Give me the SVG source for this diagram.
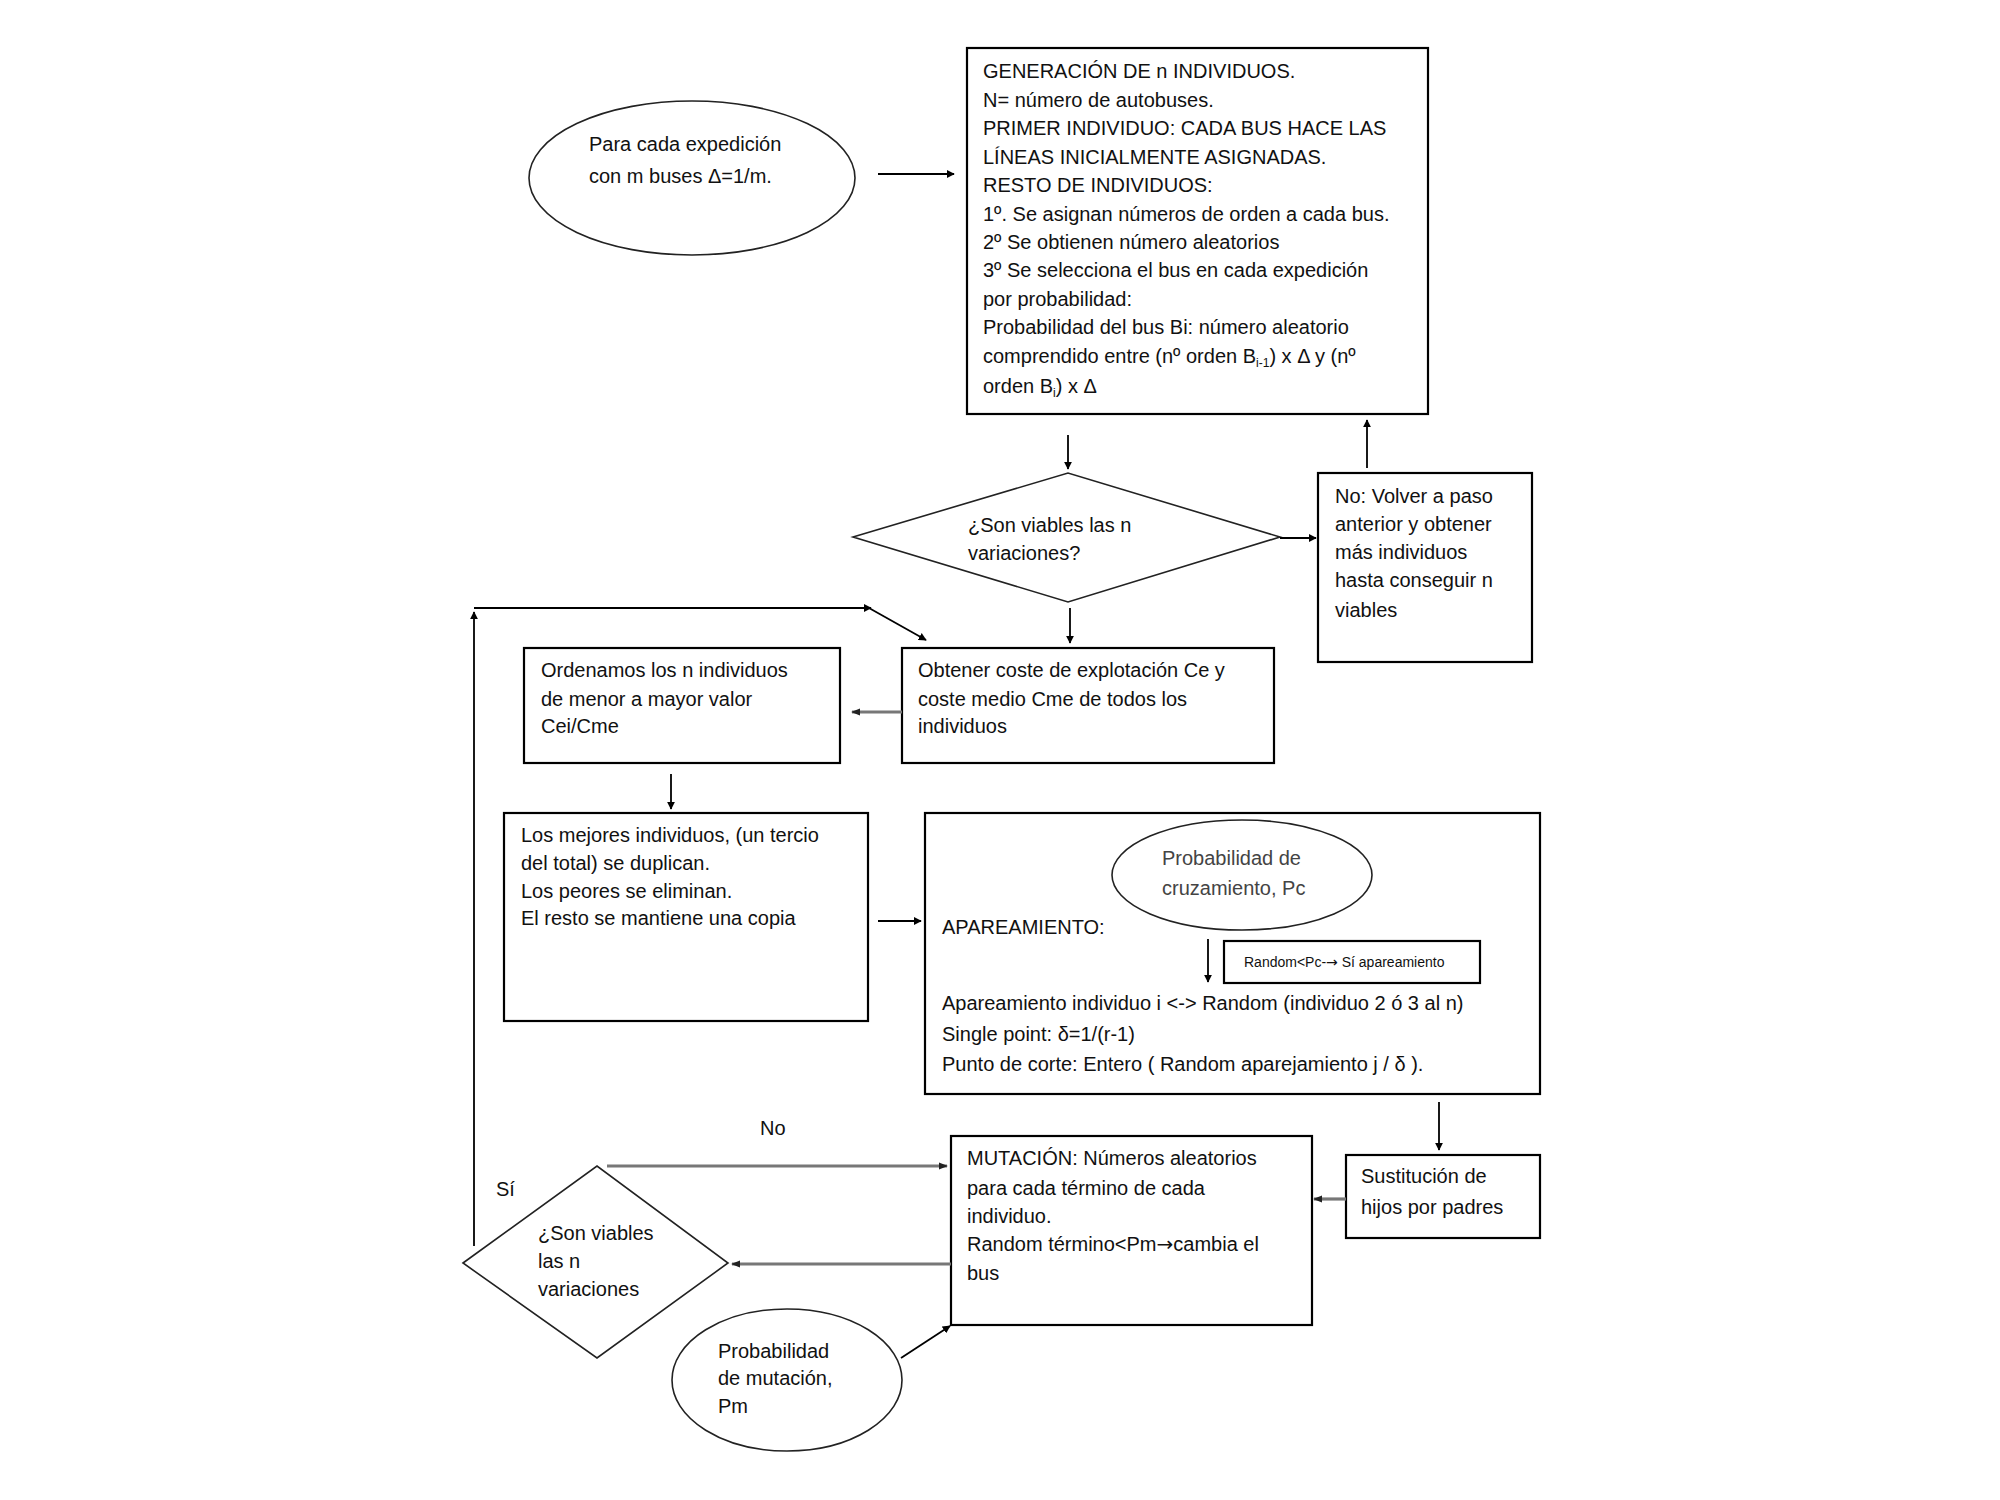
<svg xmlns="http://www.w3.org/2000/svg" width="2000" height="1500" viewBox="0 0 2000 1500">
<style>
text{font-family:"Liberation Sans",Arial,sans-serif;font-size:20px;fill:#111}
.box{fill:#fff;stroke:#000;stroke-width:2.2}
.shape{fill:#fff;stroke:#222;stroke-width:1.6}
.ln{fill:none;stroke:#000;stroke-width:1.8}
.lg{fill:none;stroke:#777;stroke-width:3.2}
.sm{font-size:14px}
.gr{fill:#444}
.arr{font-family:"DejaVu Sans",sans-serif}
</style>
<defs>
<marker id="ab" viewBox="0 0 10 10" refX="9" refY="5" markerWidth="8" markerHeight="8" markerUnits="userSpaceOnUse" orient="auto"><path d="M0,0L10,5L0,10z" fill="#000"/></marker>
<marker id="ag" viewBox="0 0 10 10" refX="9" refY="5" markerWidth="9" markerHeight="9" markerUnits="userSpaceOnUse" orient="auto"><path d="M0,1L10,5L0,9z" fill="#222"/></marker>
</defs>
<rect width="2000" height="1500" fill="#fff"/>

<g id="start">
<ellipse class="shape" cx="692" cy="178" rx="163" ry="77"/>
<text x="589" y="151">Para cada expedición</text>
<text x="589" y="183">con m buses Δ=1/m.</text>
</g>

<g id="generacion">
<rect class="box" x="967" y="48" width="461" height="366" stroke-width="2.6"/>
<text x="983" y="78">GENERACIÓN DE n INDIVIDUOS.</text>
<text x="983" y="107">N= número de autobuses.</text>
<text x="983" y="135">PRIMER INDIVIDUO: CADA BUS HACE LAS</text>
<text x="983" y="164">LÍNEAS INICIALMENTE ASIGNADAS.</text>
<text x="983" y="192">RESTO DE INDIVIDUOS:</text>
<text x="983" y="221">1º. Se asignan números de orden a cada bus.</text>
<text x="983" y="249">2º Se obtienen número aleatorios</text>
<text x="983" y="277">3º Se selecciona el bus en cada expedición</text>
<text x="983" y="306">por probabilidad:</text>
<text x="983" y="334">Probabilidad del bus Bi: número aleatorio</text>
<text x="983" y="363">comprendido entre (nº orden B<tspan font-size="12" dy="4">i-1</tspan><tspan dy="-4">) x Δ y (nº</tspan></text>
<text x="983" y="393">orden B<tspan font-size="12" dy="4">i</tspan><tspan dy="-4">) x Δ</tspan></text>
</g>

<g id="viables1">
<polygon class="shape" points="853,537 1068,473 1280,537 1068,602"/>
<text x="968" y="532">¿Son viables las n</text>
<text x="968" y="560">variaciones?</text>
</g>

<g id="no-volver">
<rect class="box" x="1318" y="473" width="214" height="189"/>
<text x="1335" y="503">No: Volver a paso</text>
<text x="1335" y="531">anterior y obtener</text>
<text x="1335" y="559">más individuos</text>
<text x="1335" y="587">hasta conseguir n</text>
<text x="1335" y="617">viables</text>
</g>

<g id="obtener">
<rect class="box" x="902" y="648" width="372" height="115"/>
<text x="918" y="677">Obtener coste de explotación Ce y</text>
<text x="918" y="706">coste medio Cme de todos los</text>
<text x="918" y="733">individuos</text>
</g>

<g id="ordenamos">
<rect class="box" x="524" y="648" width="316" height="115"/>
<text x="541" y="677">Ordenamos los n individuos</text>
<text x="541" y="706">de menor a mayor valor</text>
<text x="541" y="733">Cei/Cme</text>
</g>

<g id="mejores">
<rect class="box" x="504" y="813" width="364" height="208"/>
<text x="521" y="842">Los mejores individuos, (un tercio</text>
<text x="521" y="870">del total) se duplican.</text>
<text x="521" y="898">Los peores se eliminan.</text>
<text x="521" y="925">El resto se mantiene una copia</text>
</g>

<g id="apareamiento">
<rect class="box" x="925" y="813" width="615" height="281"/>
<text x="942" y="934">APAREAMIENTO:</text>
<text x="942" y="1010">Apareamiento individuo i  &lt;-&gt;  Random (individuo 2 ó 3 al n)</text>
<text x="942" y="1041">Single point: δ=1/(r-1)</text>
<text x="942" y="1071">Punto de corte: Entero ( Random aparejamiento j / δ ).</text>
</g>

<g id="prob-cruzamiento">
<ellipse class="shape" cx="1242" cy="875" rx="130" ry="55"/>
<text class="gr" x="1162" y="865">Probabilidad de</text>
<text class="gr" x="1162" y="895">cruzamiento, Pc</text>
</g>

<g id="random-pc">
<rect class="box" x="1224" y="941" width="256" height="42"/>
<text class="sm" x="1244" y="967">Random&lt;Pc-<tspan class="arr">→</tspan> Sí apareamiento</text>
</g>

<g id="sustitucion">
<rect class="box" x="1346" y="1155" width="194" height="83"/>
<text x="1361" y="1183">Sustitución de</text>
<text x="1361" y="1214">hijos por padres</text>
</g>

<g id="mutacion">
<rect class="box" x="951" y="1136" width="361" height="189"/>
<text x="967" y="1165">MUTACIÓN: Números aleatorios</text>
<text x="967" y="1195">para cada término de cada</text>
<text x="967" y="1223">individuo.</text>
<text x="967" y="1251">Random término&lt;Pm<tspan class="arr">→</tspan>cambia el</text>
<text x="967" y="1280">bus</text>
</g>

<g id="viables2">
<polygon class="shape" points="463,1263 597,1166 728,1263 597,1358"/>
<text x="538" y="1240">¿Son viables</text>
<text x="538" y="1268">las n</text>
<text x="538" y="1296">variaciones</text>
</g>

<g id="prob-mutacion">
<ellipse class="shape" cx="787" cy="1380" rx="115" ry="71"/>
<text x="718" y="1358">Probabilidad</text>
<text x="718" y="1385">de mutación,</text>
<text x="718" y="1413">Pm</text>
</g>

<g id="labels">
<text x="760" y="1135">No</text>
<text x="496" y="1196">Sí</text>
</g>

<g id="connectors">
<line class="ln" x1="878" y1="174" x2="954" y2="174" marker-end="url(#ab)"/>
<line class="ln" x1="1068" y1="435" x2="1068" y2="469" marker-end="url(#ab)"/>
<line class="ln" x1="1280" y1="538" x2="1316" y2="538" stroke-width="2.6" marker-end="url(#ab)"/>
<line class="ln" x1="1367" y1="468" x2="1367" y2="420" stroke-width="2.2" marker-end="url(#ab)"/>
<line class="ln" x1="1070" y1="608" x2="1070" y2="643" marker-end="url(#ab)"/>
<line class="lg" x1="902" y1="712" x2="852" y2="712" marker-end="url(#ag)"/>
<line class="ln" x1="474" y1="1246" x2="474" y2="612" stroke-width="2" marker-end="url(#ab)"/>
<line class="ln" x1="474" y1="608" x2="871" y2="608" stroke-width="2.4" marker-end="url(#ab)"/>
<line class="ln" x1="869" y1="608" x2="926" y2="640" stroke-width="2" marker-end="url(#ab)"/>
<line class="ln" x1="671" y1="774" x2="671" y2="809" marker-end="url(#ab)"/>
<line class="ln" x1="878" y1="921" x2="921" y2="921" stroke-width="2.2" marker-end="url(#ab)"/>
<line class="ln" x1="1208" y1="939" x2="1208" y2="982" marker-end="url(#ab)"/>
<line class="ln" x1="1439" y1="1102" x2="1439" y2="1150" marker-end="url(#ab)"/>
<line class="lg" x1="1346" y1="1199" x2="1314" y2="1199" marker-end="url(#ag)"/>
<line class="lg" x1="607" y1="1166" x2="947" y2="1166" marker-end="url(#ag)"/>
<line class="lg" x1="951" y1="1264" x2="732" y2="1264" marker-end="url(#ag)"/>
<line class="ln" x1="901" y1="1358" x2="950" y2="1326" stroke-width="2" marker-end="url(#ab)"/>
</g>
</svg>
